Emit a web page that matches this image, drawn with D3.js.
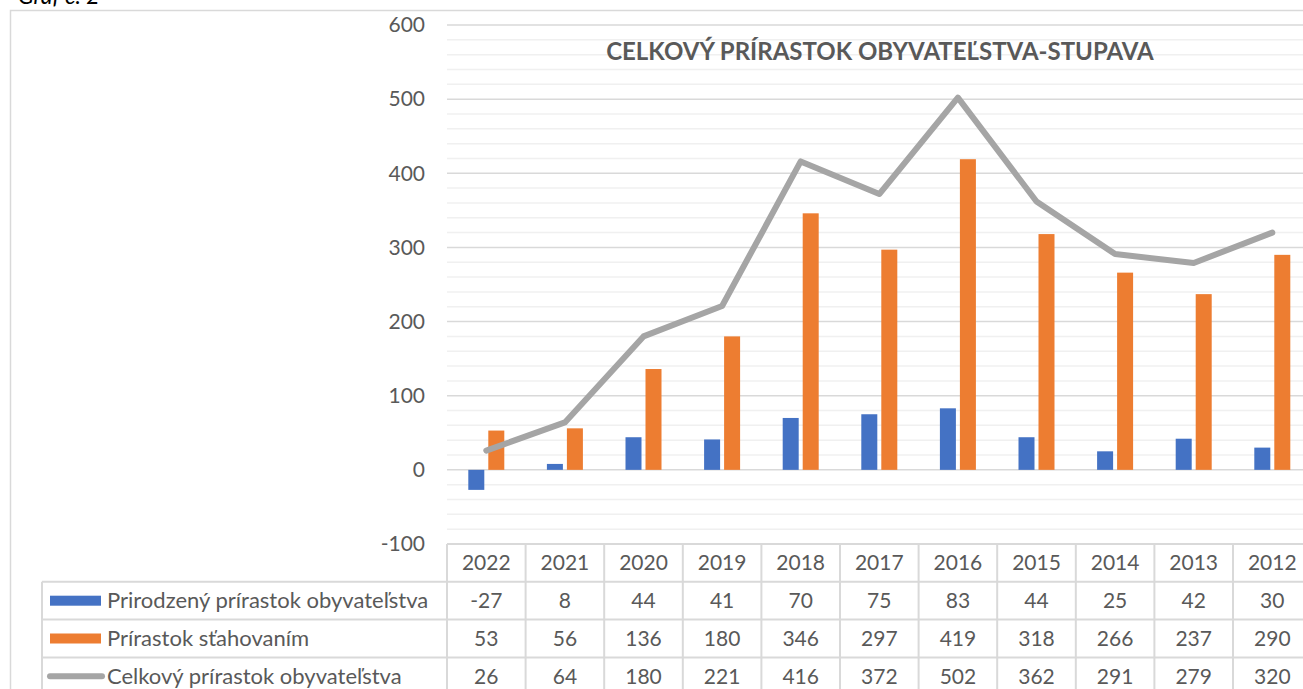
<!DOCTYPE html>
<html><head><meta charset="utf-8">
<script src="https://cdn.jsdelivr.net/npm/d3@7"></script>
<style>html,body{margin:0;padding:0;background:#fff;overflow:hidden}</style>
</head><body>
<svg id="c" width="1303" height="689"></svg>
<script>
const years = ["2022","2021","2020","2019","2018","2017","2016","2015","2014","2013","2012"];
const natural = [-27, 8, 44, 41, 70, 75, 83, 44, 25, 42, 30];
const migration = [53, 56, 136, 180, 346, 297, 419, 318, 266, 237, 290];
const total = [26, 64, 180, 221, 416, 372, 502, 362, 291, 279, 320];
const seriesNames = ["Prirodzený prírastok obyvateľstva", "Prírastok sťahovaním", "Celkový prírastok obyvateľstva"];
const colors = ["#4472C4", "#ED7D31", "#A5A5A5"];
const yTicks = [-100, 0, 100, 200, 300, 400, 500, 600];
const title = "CELKOVÝ PRÍRASTOK OBYVATEĽSTVA-STUPAVA";
const caption = "Graf č. 2";

const FONT = "Lato, 'Open Sans', sans-serif";
const svg = d3.select("#c");
const colW = 78.6;
const x = d3.scaleBand().domain(years).range([447, 447 + years.length * colW]).paddingInner(0).paddingOuter(0);
const y = d3.scaleLinear().domain([-100, 600]).range([544, 25]);
const tableTop = 544, rowH = 37.8;
const gridC = "#d9d9d9", minorC = "#f0f0f0", textC = "#595959";

// caption (cut at top)
svg.append("text").attr("x", 18).attr("y", 4).attr("font-family", FONT).attr("font-style", "italic")
  .attr("font-size", 23).attr("fill", "#000").text(caption);

// chart border
svg.append("rect").attr("x", 10.5).attr("y", 10.5).attr("width", 1320).attr("height", 700)
  .attr("fill", "none").attr("stroke", gridC).attr("stroke-width", 1.5);

// minor gridlines
const minor = d3.range(-100, 601, 20).filter(v => v % 100 !== 0);
svg.append("g").selectAll("line").data(minor).join("line")
  .attr("x1", 447).attr("x2", 1303).attr("y1", d => y(d)).attr("y2", d => y(d))
  .attr("stroke", minorC).attr("stroke-width", 1.5);
// major gridlines
svg.append("g").selectAll("line").data(yTicks.filter(v => v > -100)).join("line")
  .attr("x1", 447).attr("x2", 1303).attr("y1", d => y(d)).attr("y2", d => y(d))
  .attr("stroke", gridC).attr("stroke-width", 1.5);

// y axis labels
const yAxis = d3.axisLeft(y).tickValues(yTicks).tickSize(0).tickPadding(0).tickFormat(d => String(d));
const ya = svg.append("g").attr("transform", "translate(425,0)").call(yAxis);
ya.select(".domain").remove();
ya.selectAll("text").attr("font-family", FONT).attr("font-size", 21).attr("fill", textC);

// title
svg.append("text").attr("x", 880).attr("y", 60).attr("text-anchor", "middle")
  .attr("font-family", FONT).attr("font-weight", "bold").attr("font-size", 24).attr("fill", textC).text(title);

// bars
const bw = 16;
const cx = d => x(d) + x.bandwidth() / 2;
svg.append("g").selectAll("rect").data(years).join("rect")
  .attr("x", (d) => cx(d) - 18).attr("width", bw)
  .attr("y", (d, i) => y(Math.max(0, natural[i]))).attr("height", (d, i) => Math.abs(y(natural[i]) - y(0)))
  .attr("fill", colors[0]);
svg.append("g").selectAll("rect").data(years).join("rect")
  .attr("x", (d) => cx(d) + 2).attr("width", bw)
  .attr("y", (d, i) => y(Math.max(0, migration[i]))).attr("height", (d, i) => Math.abs(y(migration[i]) - y(0)))
  .attr("fill", colors[1]);

// line
const line = d3.line().x((d, i) => cx(years[i])).y(d => y(d));
svg.append("path").datum(total).attr("d", line).attr("fill", "none").attr("stroke", colors[2])
  .attr("stroke-width", 6).attr("stroke-linecap", "round").attr("stroke-linejoin", "round");

// data table
const tg = svg.append("g");
const right = 1330;
tg.append("line").attr("x1", 447).attr("x2", right).attr("y1", tableTop).attr("y2", tableTop).attr("stroke", gridC).attr("stroke-width", 2);
[1, 2, 3, 4].forEach(r => {
  tg.append("line").attr("x1", 42).attr("x2", right).attr("y1", tableTop + r * rowH).attr("y2", tableTop + r * rowH)
    .attr("stroke", gridC).attr("stroke-width", 2);
});
tg.selectAll("line.v").data(years).join("line").attr("class", "v")
  .attr("x1", d => x(d)).attr("x2", d => x(d)).attr("y1", tableTop).attr("y2", 700)
  .attr("stroke", gridC).attr("stroke-width", 2);
tg.append("line").attr("x1", x(years[years.length-1]) + colW).attr("x2", x(years[years.length-1]) + colW)
  .attr("y1", tableTop).attr("y2", 700).attr("stroke", gridC).attr("stroke-width", 2);
tg.append("line").attr("x1", 42).attr("x2", 42).attr("y1", tableTop + rowH).attr("y2", 700)
  .attr("stroke", gridC).attr("stroke-width", 2);

tg.selectAll("text.h").data(years).join("text").attr("class", "h")
  .attr("x", d => cx(d)).attr("y", tableTop + rowH / 2).attr("dy", "0.35em").attr("text-anchor", "middle")
  .attr("font-family", FONT).attr("font-size", 21).attr("fill", textC).text(d => d);
[natural, migration, total].forEach((arr, r) => {
  tg.append("g").selectAll("text").data(arr).join("text")
    .attr("x", (d, i) => cx(years[i])).attr("y", tableTop + (r + 1.5) * rowH).attr("dy", "0.35em")
    .attr("text-anchor", "middle").attr("font-family", FONT).attr("font-size", 21).attr("fill", textC).text(d => String(d));
  const ly = tableTop + (r + 1.5) * rowH;
  if (r < 2) {
    tg.append("rect").attr("x", 50).attr("y", ly - 5).attr("width", 51).attr("height", 10).attr("fill", colors[r]);
  } else {
    tg.append("line").attr("x1", 50).attr("x2", 102).attr("y1", ly).attr("y2", ly)
      .attr("stroke", colors[2]).attr("stroke-width", 6).attr("stroke-linecap", "round");
  }
  tg.append("text").attr("x", 107).attr("y", ly).attr("dy", "0.35em").attr("font-family", FONT)
    .attr("font-size", 22).attr("fill", textC).text(seriesNames[r]);
});
</script>
</body></html>
